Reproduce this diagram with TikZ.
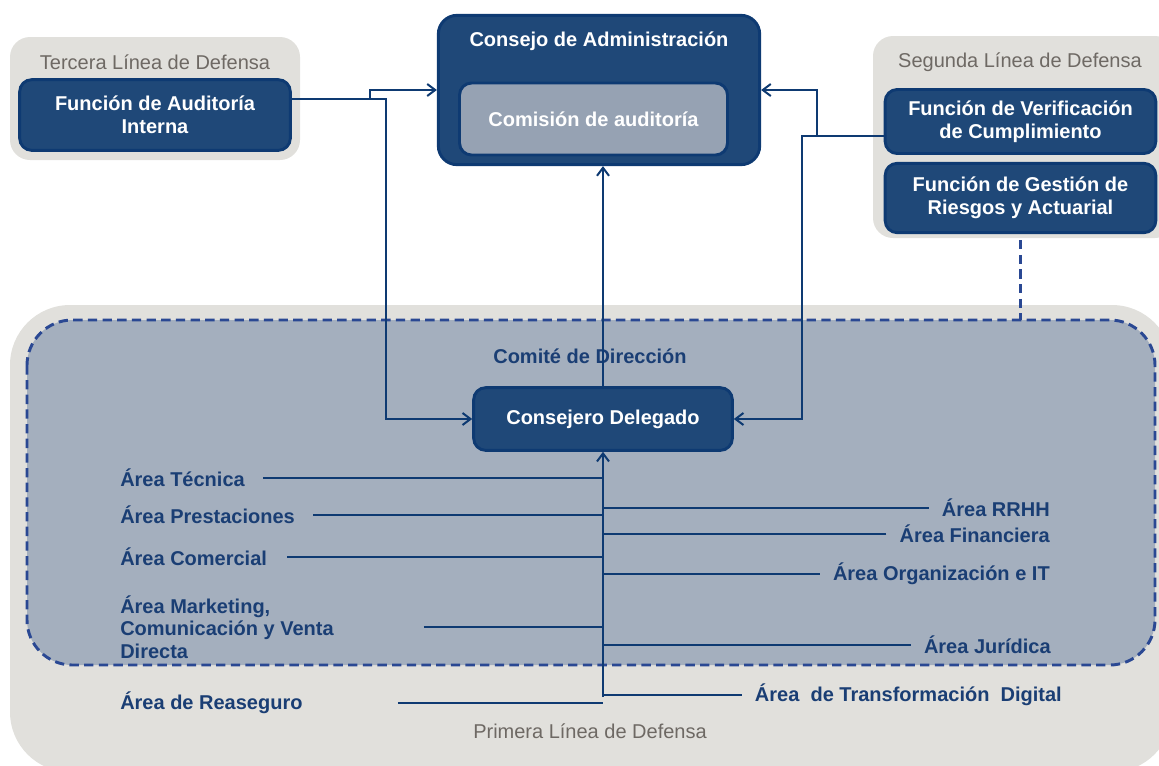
\documentclass[tikz,border=0pt]{standalone}
\usepackage{fontspec}
\setmainfont{Liberation Sans}
\usetikzlibrary{arrows.meta}
\definecolor{navy}{HTML}{1F4878}
\definecolor{navyline}{HTML}{0E3A72}
\definecolor{areatext}{HTML}{1A3E74}
\definecolor{paper}{HTML}{E1E0DC}
\definecolor{zone}{HTML}{A4AFBE}
\definecolor{dashblue}{HTML}{2A4893}
\definecolor{greytext}{HTML}{6E6964}
\definecolor{comis}{HTML}{96A2B3}
\begin{document}
\begin{tikzpicture}[x=0.75pt,y=-0.75pt,
    box/.style={draw=navyline,line width=2.2pt,fill=navy,rounded corners=9pt,
      text=white,font=\bfseries\fontsize{15}{17.25}\selectfont,align=center,inner sep=0pt},
    area/.style={text=areatext,font=\bfseries\fontsize{15}{17}\selectfont,inner sep=0pt},
    defline/.style={text=greytext,font=\fontsize{15}{17}\selectfont,inner sep=0pt},
    link/.style={navyline,line width=1.5pt},
    arr/.style={link,-{Straight Barb[length=6pt,width=9pt]}},
    zoneline/.style={dashblue,line width=2.2pt,dash pattern=on 7pt off 4pt}]
  \useasboundingbox (0,0) rectangle (1159,765);
  \clip (0,0) rectangle (1159,765);
  % backgrounds
  \fill[paper,rounded corners=15pt] (10,37) rectangle (300,160);
  \fill[paper,rounded corners=15pt] (873,36) rectangle (1175,238);
  \fill[paper,rounded corners=45pt] (10,305) rectangle (1172,772);
  \draw[zoneline,fill=zone,rounded corners=34pt] (27,320) rectangle (1155,665);
  \node[defline] (tercera) at (155,62) {Tercera Línea de Defensa};
  \node[defline] (segunda) at (1020,62) {Segunda Línea de Defensa};
  \node[defline] (primera) at (590,731) {Primera Línea de Defensa};
  % boxes
  \node[box,minimum width=203pt,minimum height=53pt] (aud) at (155,115)
    {Función de Auditoría\\Interna};
  \node[box,minimum width=241pt,minimum height=112pt,rounded corners=14pt] (consejo) at (599,90) {};
  \node[text=white,font=\bfseries\fontsize{15}{17}\selectfont] (tconsejo) at (599,41)
    {Consejo de Administración};
  \node[box,fill=comis,minimum width=201pt,minimum height=54pt] (comision) at (593.5,119)
    {Comisión de auditoría};
  \node[box,minimum width=203pt,minimum height=48pt] (verif) at (1020.5,121.5)
    {Función de Verificación\\de Cumplimiento};
  \node[box,minimum width=203pt,minimum height=52pt] (gestion) at (1020.5,198)
    {Función de Gestión de\\Riesgos y Actuarial};
  \draw[zoneline] (gestion.south) ++(0,6) -- (gestion.south |- 0,320);
  \node[area] (comite) at (590,356) {Comité de Dirección};
  \node[box,minimum width=194pt,minimum height=47pt] (delegado) at (603,419)
    {Consejero Delegado};
  % connectors at the top
  \coordinate (jl) at (386,99);
  \coordinate (bl) at (370,99);
  \coordinate (jr) at (802,136);
  \coordinate (br) at (817,136);
  \draw[arr] (aud.east |- jl) -- (jl) |- (delegado.west);
  \draw[arr] (bl) |- (consejo.west);
  \draw[arr] (verif.west |- jr) -- (jr) |- (delegado.east);
  \draw[arr] (br) |- (consejo.east);
  \draw[arr] (delegado.north) -- (delegado.north |- consejo.south);
  % areas
  \coordinate (tb) at (603,697);
  \draw[arr] (tb) -- (delegado.south);
  \node[area,anchor=west] (atec) at (120,478) {Área Técnica};
  \node[area,anchor=west] (apre) at (120,515) {Área Prestaciones};
  \node[area,anchor=west] (acom) at (120,557) {Área Comercial};
  \node[area,anchor=west,align=left] (amkt) at (120,627)
    {Área Marketing,\\Comunicación y Venta\\Directa};
  \node[area,anchor=west] (area) at (120,703) {Área de Reaseguro};
  \node[area,anchor=east] (arrhh) at (1050,508) {Área RRHH};
  \node[area,anchor=east] (afin) at (1050,534) {Área Financiera};
  \node[area,anchor=east] (aorg) at (1050,574) {Área Organización e IT};
  \node[area,anchor=east] (ajur) at (1051,645) {Área Jurídica};
  \node[area,anchor=east] (atd) at (1062,695) {Área\ \ de Transformación\ \ Digital};
  \draw[link] (atec.east) ++(18,0) -- (atec -| tb);
  \draw[link] (apre.east) ++(18,0) -- (apre -| tb);
  \draw[link] (acom.east) ++(20,0) -- (acom -| tb);
  \draw[link] (amkt.east) ++(90,0) -- (amkt -| tb);
  \draw[link] (area.east) ++(95,0) -- (area -| tb);
  \draw[link] (arrhh.west) ++(-13,0) -- (arrhh -| tb);
  \draw[link] (afin.west) ++(-13,0) -- (afin -| tb);
  \draw[link] (aorg.west) ++(-13,0) -- (aorg -| tb);
  \draw[link] (ajur.west) ++(-13,0) -- (ajur -| tb);
  \draw[link] (atd.west) ++(-13,0) -- (atd -| tb);
\end{tikzpicture}
\end{document}
